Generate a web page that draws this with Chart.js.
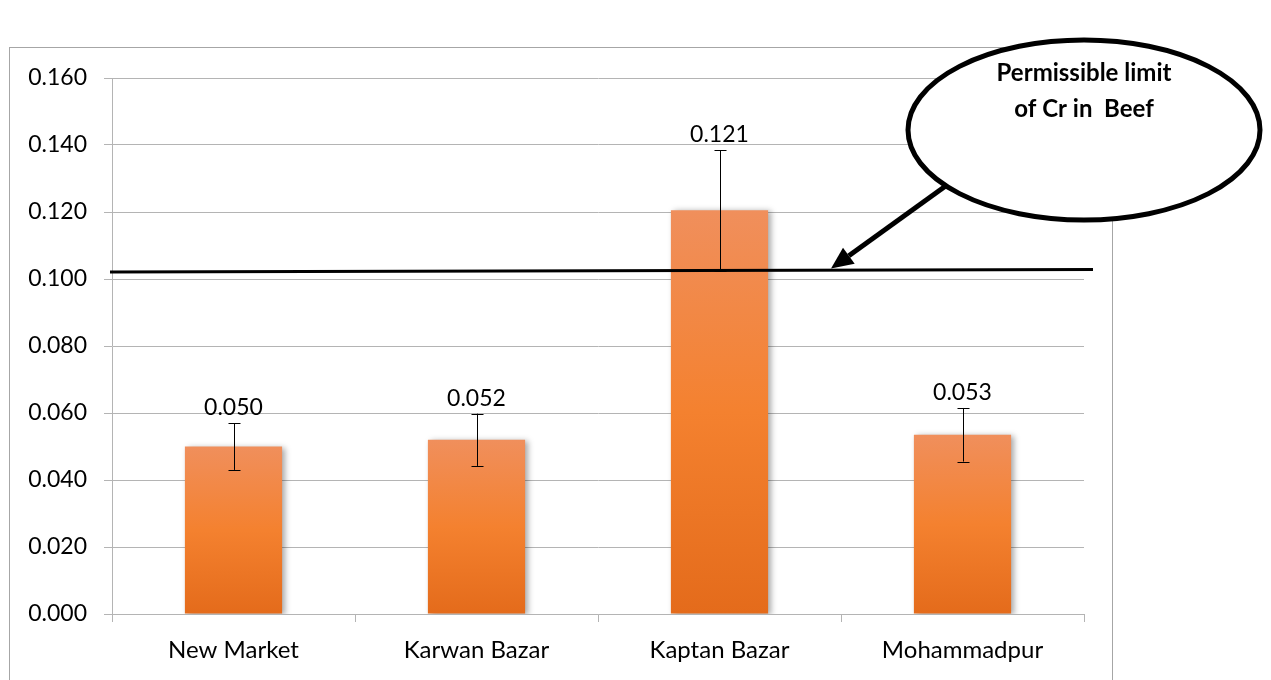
<!DOCTYPE html>
<html>
<head>
<meta charset="utf-8">
<script src="https://cdn.jsdelivr.net/npm/chart.js@4.4.1/dist/chart.umd.min.js"></script>
<style>
    body { margin: 0; background: #fff; }
</style>
</head>
<body>
<canvas id="crChart" width="1271" height="680"></canvas>
<script>
const markets = ['New Market', 'Karwan Bazar', 'Kaptan Bazar', 'Mohammadpur'];
const crMeans = [0.050, 0.052, 0.1205, 0.0535];
const crErrors = [0.007, 0.0078, 0.018, 0.008];
const valueLabels = ['0.050', '0.052', '0.121', '0.053'];
const limitStart = 0.1021;
const limitEnd = 0.1028;
const calloutLines = ['Permissible limit', 'of Cr in  Beef'];

const FONT = 'Lato, "Open Sans", sans-serif';
const GRID = '#b4b4b4';

function barGradient(context) {
    const chart = context.chart;
    const area = chart.chartArea;
    if (!area || !chart.scales.y) return '#f28434';
    const top = chart.scales.y.getPixelForValue(crMeans[context.dataIndex]);
    const g = chart.ctx.createLinearGradient(0, top, 0, area.bottom);
    g.addColorStop(0, '#f08f5c');
    g.addColorStop(0.5, '#f4812f');
    g.addColorStop(1, '#e46b1b');
    return g;
}

const barShadow = {
    id: 'barShadow',
    beforeDatasetsDraw(chart) {
        const ctx = chart.ctx;
        ctx.save();
        ctx.shadowColor = 'rgba(0,0,0,0.35)';
        ctx.shadowBlur = 6;
        ctx.shadowOffsetX = 3;
        ctx.shadowOffsetY = 1;
    },
    afterDatasetsDraw(chart) {
        chart.ctx.restore();
    },
};

const extras = {
    id: 'extras',
    beforeDraw(chart) {
        const ctx = chart.ctx;
        ctx.save();
        ctx.strokeStyle = '#a6a6a6';
        ctx.lineWidth = 1;
        ctx.strokeRect(9.5, 47.5, 1103, 700);
        ctx.restore();
    },
    afterDatasetsDraw(chart) {
        const ctx = chart.ctx;
        const y = chart.scales.y;
        const meta = chart.getDatasetMeta(0);
        ctx.save();
        // error bars
        ctx.strokeStyle = '#000';
        ctx.lineWidth = 1;
        meta.data.forEach((bar, i) => {
            const x = Math.round(bar.x) + 0.5;
            const hi = y.getPixelForValue(crMeans[i] + crErrors[i]);
            const lo = y.getPixelForValue(crMeans[i] - crErrors[i]);
            ctx.beginPath();
            ctx.moveTo(x, hi);
            ctx.lineTo(x, lo);
            ctx.moveTo(x - 6, Math.round(hi) + 0.5);
            ctx.lineTo(x + 6, Math.round(hi) + 0.5);
            ctx.moveTo(x - 6, Math.round(lo) + 0.5);
            ctx.lineTo(x + 6, Math.round(lo) + 0.5);
            ctx.stroke();
        });
        // value labels
        ctx.fillStyle = '#000';
        ctx.font = '23px ' + FONT;
        ctx.textAlign = 'center';
        ctx.textBaseline = 'middle';
        meta.data.forEach((bar, i) => {
            const hi = y.getPixelForValue(crMeans[i] + crErrors[i]);
            ctx.fillText(valueLabels[i], bar.x, hi - 15);
        });
        ctx.restore();
    },
    afterDraw(chart) {
        const ctx = chart.ctx;
        const y = chart.scales.y;
        const area = chart.chartArea;
        ctx.save();
        // permissible limit line
        const y0 = y.getPixelForValue(limitStart);
        const y1 = y.getPixelForValue(limitEnd);
        ctx.strokeStyle = '#000';
        ctx.lineWidth = 3;
        ctx.beginPath();
        ctx.moveTo(area.left - 2, y0);
        ctx.lineTo(area.right + 9, y1);
        ctx.stroke();

        // arrow from callout to line
        const tipX = 831;
        const tipY = y.getPixelForValue(limitEnd) - 1;
        const fromX = 947, fromY = 185;
        const ang = Math.atan2(tipY - fromY, tipX - fromX);
        const headLen = 22, headW = 10;
        const bx = tipX - headLen * Math.cos(ang);
        const by = tipY - headLen * Math.sin(ang);
        ctx.lineWidth = 5;
        ctx.beginPath();
        ctx.moveTo(fromX, fromY);
        ctx.lineTo(bx, by);
        ctx.stroke();
        ctx.beginPath();
        ctx.moveTo(tipX, tipY);
        ctx.lineTo(bx + headW * Math.sin(ang), by - headW * Math.cos(ang));
        ctx.lineTo(bx - headW * Math.sin(ang), by + headW * Math.cos(ang));
        ctx.closePath();
        ctx.fillStyle = '#000';
        ctx.fill();

        // callout ellipse
        const cx = area.right, cy = 130;
        ctx.beginPath();
        ctx.ellipse(cx, cy, 176, 90, 0, 0, Math.PI * 2);
        ctx.fillStyle = '#fff';
        ctx.fill();
        ctx.lineWidth = 5;
        ctx.strokeStyle = '#000';
        ctx.stroke();

        ctx.fillStyle = '#000';
        ctx.font = 'bold 24px ' + FONT;
        ctx.textAlign = 'center';
        ctx.textBaseline = 'middle';
        ctx.fillText(calloutLines[0], cx, 73);
        ctx.fillText(calloutLines[1], cx, 109);
        ctx.restore();
    },
};

const crChart = new Chart(document.querySelector('#crChart'), {
    type: 'bar',
    data: {
        labels: markets,
        datasets: [
            {
                label: 'Cr',
                data: crMeans,
                backgroundColor: barGradient,
                barPercentage: 0.4,
                categoryPercentage: 1,
            },
        ],
    },
    options: {
        responsive: false,
        animation: false,
        layout: {
            padding: { top: 78, right: 187, left: 0, bottom: 0 },
        },
        plugins: {
            legend: { display: false },
            tooltip: { enabled: false },
        },
        scales: {
            x: {
                afterFit(scale) {
                    scale.height = 66;
                },
                grid: {
                    drawOnChartArea: false,
                    tickLength: 8,
                    color: GRID,
                },
                border: { color: GRID },
                ticks: {
                    color: '#000',
                    font: { family: FONT, size: 24 },
                    padding: 14,
                    maxRotation: 0,
                    autoSkip: false,
                },
            },
            y: {
                min: 0,
                max: 0.16,
                afterFit(scale) {
                    scale.width = 112;
                },
                grid: {
                    color: GRID,
                    tickLength: 8,
                },
                border: { color: GRID },
                ticks: {
                    stepSize: 0.02,
                    color: '#000',
                    font: { family: FONT, size: 23 },
                    padding: 17,
                    callback: (v) => v.toFixed(3),
                },
            },
        },
    },
    plugins: [barShadow, extras],
});
</script>
</body>
</html>
